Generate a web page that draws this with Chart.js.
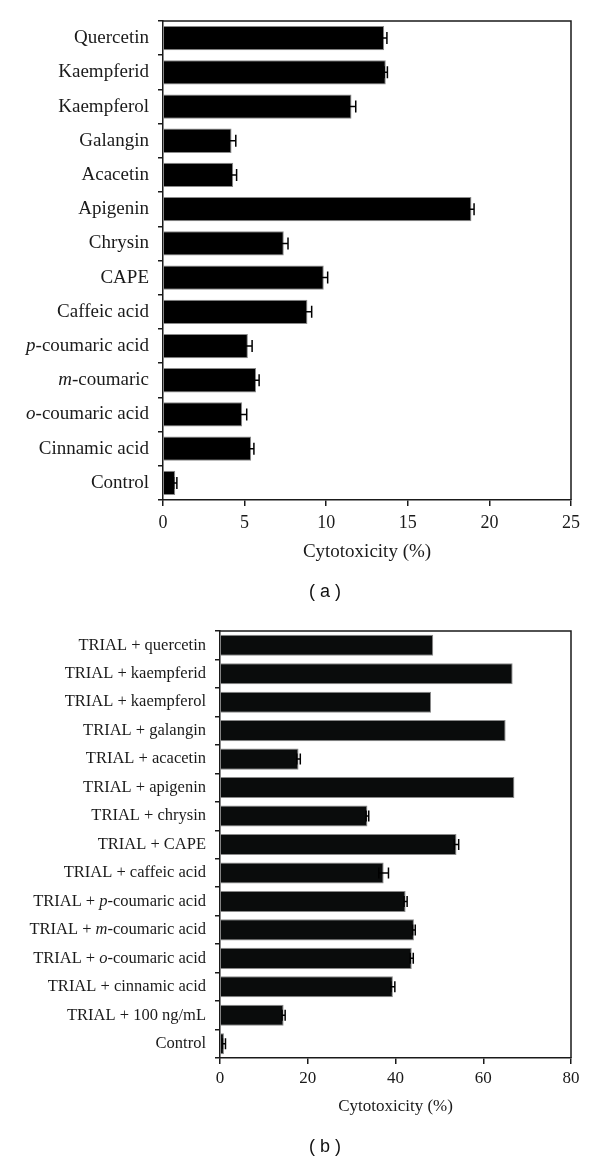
<!DOCTYPE html>
<html>
<head>
<meta charset="utf-8">
<script src="https://cdn.jsdelivr.net/npm/chart.js@4.4.1/dist/chart.umd.min.js"></script>
<style>
  body { margin: 0; background: #fff; }
  #wrap { position: relative; width: 600px; height: 1164px; }
  .box { position: absolute; left: 0; width: 600px; }
  .panel { position: absolute; width: 60px; text-align: center; left: 295px;
           font-family: "Liberation Sans", Arial, sans-serif; font-size: 18px; color: #111; }
</style>
</head>
<body>
<div id="wrap">
  <div class="box" style="top:0;height:600px"><canvas id="chartA"></canvas></div>
  <div class="panel" style="top:581px">( a )</div>
  <div class="box" style="top:600px;height:564px"><canvas id="chartB"></canvas></div>
  <div class="panel" style="top:1136px">( b )</div>
</div>
<script>
// panel (a)
const labelsA = ['Quercetin', 'Kaempferid', 'Kaempferol', 'Galangin', 'Acacetin', 'Apigenin', 'Chrysin',
  'CAPE', 'Caffeic acid', 'p-coumaric acid', 'm-coumaric', 'o-coumaric acid', 'Cinnamic acid', 'Control'];
const valuesA = [13.55, 13.65, 11.55, 4.2, 4.3, 18.9, 7.4, 9.85, 8.85, 5.2, 5.7, 4.85, 5.4, 0.75];
const errorsA = [0.17, 0.1, 0.26, 0.26, 0.21, 0.16, 0.26, 0.24, 0.26, 0.26, 0.19, 0.28, 0.17, 0.1];
const ticksA = [0, 5, 10, 15, 20, 25];

// panel (b)
const labelsB = ['TRIAL + quercetin', 'TRIAL + kaempferid', 'TRIAL + kaempferol', 'TRIAL + galangin',
  'TRIAL + acacetin', 'TRIAL + apigenin', 'TRIAL + chrysin', 'TRIAL + CAPE', 'TRIAL + caffeic acid',
  'TRIAL + p-coumaric acid', 'TRIAL + m-coumaric acid', 'TRIAL + o-coumaric acid',
  'TRIAL + cinnamic acid', 'TRIAL + 100 ng/mL', 'Control'];
const valuesB = [48.6, 66.7, 48.1, 65.1, 17.9, 67.1, 33.6, 53.9, 37.3, 42.3, 44.2, 43.7, 39.4, 14.5, 0.9];
const errorsB = [0, 0, 0, 0, 0.4, 0, 0.3, 0.5, 1.1, 0.35, 0.3, 0.35, 0.45, 0.35, 0.35];
const ticksB = [0, 20, 40, 60, 80];

const SERIF = '"Liberation Serif", "Times New Roman", serif';
const INK = '#1a1a1a';

// split "p-coumaric acid" style labels so the isomer letter can be italic
function splitLabel(s) {
  const m = s.match(/(^|\s)([pmo])-/);
  if (!m) return [{ t: s, it: false }];
  const i = m.index + m[1].length;
  return [{ t: s.slice(0, i), it: false }, { t: m[2], it: true }, { t: s.slice(i + 1), it: false }];
}

// y labels with italic parts, error bars and the frame
const extras = {
  id: 'extras',
  afterDatasetsDraw(chart, args, opts) {
    const ctx = chart.ctx;
    const x = chart.scales.x, y = chart.scales.y;
    const vals = chart.data.datasets[0].data;
    ctx.save();
    ctx.strokeStyle = '#000';
    ctx.lineWidth = 1.5;
    vals.forEach((v, i) => {
      const e = opts.errors[i];
      if (!e) return;
      const py = y.getPixelForValue(i);
      const x1 = x.getPixelForValue(v - e), x2 = x.getPixelForValue(v + e);
      ctx.beginPath();
      ctx.moveTo(x1, py); ctx.lineTo(x2, py);
      ctx.moveTo(x1, py - opts.cap); ctx.lineTo(x1, py + opts.cap);
      ctx.moveTo(x2, py - opts.cap); ctx.lineTo(x2, py + opts.cap);
      ctx.stroke();
    });
    ctx.restore();
  },
  afterDraw(chart, args, opts) {
    const ctx = chart.ctx;
    const a = chart.chartArea;
    const y = chart.scales.y;
    ctx.save();
    ctx.strokeStyle = INK;
    ctx.lineWidth = 1.5;
    ctx.beginPath();
    ctx.moveTo(a.left, a.top); ctx.lineTo(a.right, a.top); ctx.lineTo(a.right, a.bottom);
    ctx.stroke();

    ctx.fillStyle = INK;
    ctx.textBaseline = 'middle';
    ctx.textAlign = 'left';
    chart.data.labels.forEach((lab, i) => {
      const parts = splitLabel(lab);
      let w = 0;
      parts.forEach(p => {
        ctx.font = (p.it ? 'italic ' : '') + opts.size + 'px ' + SERIF;
        p.w = ctx.measureText(p.t).width;
        w += p.w;
      });
      let px = a.left - opts.gap - w;
      const py = y.getPixelForValue(i);
      parts.forEach(p => {
        ctx.font = (p.it ? 'italic ' : '') + opts.size + 'px ' + SERIF;
        ctx.fillText(p.t, px, py);
        px += p.w;
      });
    });
    ctx.restore();
  }
};

function makeChart(id, cfg) {
  return new Chart(document.getElementById(id), {
    type: 'bar',
    data: {
      labels: cfg.labels,
      datasets: [{
        data: cfg.values,
        backgroundColor: cfg.color,
        borderColor: '#8a8a8a',
        borderWidth: 1,
        barPercentage: cfg.barPct,
        categoryPercentage: 1
      }]
    },
    options: {
      indexAxis: 'y',
      responsive: true,
      maintainAspectRatio: false,
      animation: false,
      layout: { padding: cfg.padding },
      plugins: {
        legend: { display: false },
        tooltip: { enabled: false },
        extras: { errors: cfg.errors, cap: cfg.cap, size: cfg.labelSize, gap: 14 }
      },
      scales: {
        x: {
          min: cfg.ticks[0],
          max: cfg.ticks[cfg.ticks.length - 1],
          afterBuildTicks: (s) => { s.ticks = cfg.ticks.map(v => ({ value: v })); },
          grid: { drawOnChartArea: false, tickLength: 6, color: INK, lineWidth: 1.5 },
          border: { color: INK, width: 1.5 },
          ticks: { color: INK, padding: cfg.tickPad, font: { family: SERIF, size: cfg.tickSize } },
          title: {
            display: true,
            text: 'Cytotoxicity (%)',
            color: INK,
            padding: { top: cfg.titlePad, bottom: 0 },
            font: { family: SERIF, size: cfg.titleSize }
          }
        },
        y: {
          afterFit: (s) => { s.width = cfg.left; },
          grid: { drawOnChartArea: false, offset: true, tickLength: 5, color: INK, lineWidth: 1.5 },
          border: { color: INK, width: 1.5 },
          ticks: { color: 'rgba(0,0,0,0)', font: { family: SERIF, size: cfg.labelSize } }
        }
      }
    },
    plugins: [extras]
  });
}

makeChart('chartA', {
  labels: labelsA, values: valuesA, errors: errorsA, ticks: ticksA,
  color: '#000', barPct: 0.71, cap: 6, left: 163,
  padding: { left: 0, right: 29, top: 21, bottom: 36.6 },
  labelSize: 19, tickSize: 18, tickPad: 6, titleSize: 19, titlePad: 1
});

makeChart('chartB', {
  labels: labelsB, values: valuesB, errors: errorsB, ticks: ticksB,
  color: '#0a0c0c', barPct: 0.74, cap: 5.5, left: 220,
  padding: { left: 0, right: 29, top: 31, bottom: 47.2 },
  labelSize: 16.5, tickSize: 17, tickPad: 4, titleSize: 17, titlePad: 4
});
</script>
</body>
</html>
